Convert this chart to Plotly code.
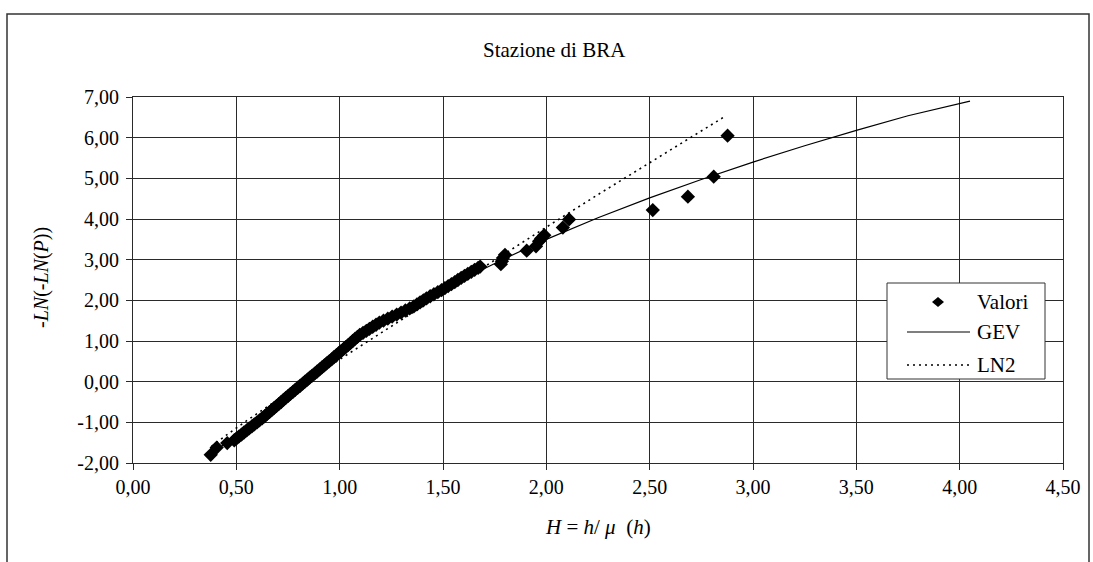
import plotly.graph_objects as go

# ---- data -------------------------------------------------------------
# Observed values: normalised rainfall H and reduced Gumbel variate -ln(-ln P)
valori_h = [0.376, 0.405, 0.456, 0.490,
            0.500, 0.512, 0.525, 0.537, 0.550, 0.562, 0.575, 0.587, 0.600, 0.612, 0.625,
            0.637, 0.648, 0.660, 0.671, 0.682, 0.694, 0.705, 0.717, 0.728, 0.739, 0.751,
            0.762, 0.774, 0.785, 0.797, 0.809, 0.821, 0.832, 0.844, 0.855, 0.867, 0.879,
            0.891, 0.903, 0.914, 0.926, 0.937, 0.949, 0.961, 0.972, 0.984, 0.995, 1.007,
            1.018, 1.029, 1.041, 1.052, 1.063, 1.074, 1.086, 1.097, 1.113, 1.129, 1.144,
            1.160, 1.176, 1.192, 1.212, 1.233, 1.254, 1.276, 1.297, 1.318, 1.339, 1.359,
            1.374, 1.389, 1.405, 1.420, 1.438, 1.456, 1.475, 1.493, 1.509, 1.525, 1.541,
            1.557, 1.572, 1.588, 1.604, 1.620, 1.637, 1.653, 1.670, 1.680,
            1.780, 1.785, 1.790, 1.800, 1.905, 1.950, 1.965, 1.975, 1.990,
            2.080, 2.110, 2.515, 2.685, 2.810, 2.877]
valori_y = [-1.80, -1.62, -1.51, -1.44,
            -1.40, -1.35, -1.30, -1.25, -1.20, -1.15, -1.10, -1.05, -1.00, -0.95, -0.90,
            -0.85, -0.80, -0.75, -0.70, -0.65, -0.60, -0.55, -0.50, -0.45, -0.40, -0.35,
            -0.30, -0.25, -0.20, -0.15, -0.10, -0.05, 0.00, 0.05, 0.10, 0.15, 0.20,
            0.25, 0.30, 0.35, 0.40, 0.45, 0.50, 0.55, 0.60, 0.65, 0.70, 0.75,
            0.80, 0.85, 0.90, 0.95, 1.00, 1.05, 1.10, 1.15, 1.20, 1.25, 1.30,
            1.35, 1.40, 1.45, 1.50, 1.55, 1.60, 1.65, 1.70, 1.75, 1.80, 1.85,
            1.90, 1.95, 2.00, 2.05, 2.10, 2.15, 2.20, 2.25, 2.30, 2.35, 2.40,
            2.45, 2.50, 2.55, 2.60, 2.65, 2.70, 2.75, 2.80, 2.83,
            2.89, 2.96, 3.04, 3.12, 3.22, 3.33, 3.45, 3.52, 3.60,
            3.79, 3.99, 4.22, 4.55, 5.04, 6.05]

# GEV growth curve
gev_h = [0.40, 0.50, 0.60, 0.70, 0.80, 0.90, 1.00, 1.20, 1.40, 1.60, 1.80,
         2.00, 2.25, 2.50, 2.75, 3.00, 3.25, 3.50, 3.75, 4.05]
gev_y = [-1.70, -1.31, -0.92, -0.53, -0.13, 0.28, 0.68, 1.38, 1.98, 2.53, 3.03,
         3.50, 4.03, 4.52, 4.97, 5.40, 5.80, 6.18, 6.54, 6.90]

# Two-parameter lognormal growth curve
ln2_h = [0.38, 0.45, 0.55, 0.65, 0.75, 0.85, 1.00, 1.15, 1.30, 1.50, 1.75,
         2.00, 2.25, 2.50, 2.70, 2.86]
ln2_y = [-1.59, -1.32, -0.96, -0.61, -0.27, 0.06, 0.55, 1.04, 1.53, 2.18, 2.99,
         3.80, 4.60, 5.39, 6.02, 6.51]

x_ticks = [0.0, 0.5, 1.0, 1.5, 2.0, 2.5, 3.0, 3.5, 4.0, 4.5]
x_tick_text = ["0,00", "0,50", "1,00", "1,50", "2,00", "2,50", "3,00", "3,50", "4,00", "4,50"]
y_ticks = [-2, -1, 0, 1, 2, 3, 4, 5, 6, 7]
y_tick_text = ["-2,00", "-1,00", "0,00", "1,00", "2,00", "3,00", "4,00", "5,00", "6,00", "7,00"]

# ---- layout geometry ---------------------------------------------------
W, H = 1093, 562
ML, MR, MT, MB = 133, 30, 97, 99
PW, PH = W - ML - MR, H - MT - MB
FONT = "Liberation Serif"


def fx(px):
    """pixel column -> paper x"""
    return (px - ML) / PW


def fy(py):
    """pixel row -> paper y"""
    return (H - MB - py) / PH


fig = go.Figure()

fig.add_trace(go.Scatter(
    x=gev_h, y=gev_y, mode="lines", name="GEV",
    line=dict(color="black", width=1.2), showlegend=False))
fig.add_trace(go.Scatter(
    x=ln2_h, y=ln2_y, mode="lines", name="LN2",
    line=dict(color="black", width=1.6, dash="2px,4px"), showlegend=False))
fig.add_trace(go.Scatter(
    x=valori_h, y=valori_y, mode="markers", name="Valori",
    marker=dict(symbol="diamond", size=11, color="black", line=dict(width=0)),
    showlegend=False))

axis_common = dict(
    showgrid=True, gridcolor="#2a2a2a", gridwidth=1,
    showline=True, linecolor="#2a2a2a", linewidth=1, mirror=True,
    ticks="outside", ticklen=6, tickcolor="#2a2a2a",
    tickfont=dict(family=FONT, size=20, color="black"),
    zeroline=False, fixedrange=True,
)

fig.update_xaxes(range=[0, 4.5], tickvals=x_ticks, ticktext=x_tick_text, **axis_common)
fig.update_yaxes(range=[-2, 7], tickvals=y_ticks, ticktext=y_tick_text,
                 ticklabelstandoff=3, **axis_common)

shapes = [
    # chart-area frame
    dict(type="rect", xref="paper", yref="paper",
         x0=fx(7), x1=fx(1089), y0=fy(14), y1=fy(600),
         line=dict(color="#333", width=1.5), fillcolor="rgba(0,0,0,0)", layer="below"),
    # legend box
    dict(type="rect", xref="paper", yref="paper",
         x0=fx(887), x1=fx(1045), y0=fy(283), y1=fy(379),
         line=dict(color="#333", width=1), fillcolor="white"),
    # legend samples
    dict(type="path", xref="paper", yref="paper",
         xsizemode="pixel", ysizemode="pixel",
         xanchor=fx(938), yanchor=fy(302),
         path="M -6 0 L 0 5 L 6 0 L 0 -5 Z",
         line=dict(width=0), fillcolor="black"),
    dict(type="line", xref="paper", yref="paper",
         x0=fx(907), x1=fx(970), y0=fy(332), y1=fy(332),
         line=dict(color="black", width=1.2)),
    dict(type="line", xref="paper", yref="paper",
         x0=fx(907), x1=fx(970), y0=fy(365), y1=fy(365),
         line=dict(color="black", width=1.6, dash="2px,4px")),
]

annotations = [
    dict(text="Stazione di BRA", x=fx(554), y=fy(50), xref="paper", yref="paper",
         showarrow=False, xanchor="center", yanchor="middle",
         font=dict(family=FONT, size=21, color="black")),
    dict(text="-<i>LN</i>(-<i>LN</i>(<i>P</i>))", x=fx(41), y=fy(278),
         xref="paper", yref="paper", showarrow=False, textangle=-90,
         xanchor="center", yanchor="middle",
         font=dict(family=FONT, size=20, color="black")),
    dict(text="<i>H</i> = <i>h</i>/ <i>\u03bc</i>\u00a0 (<i>h</i>)", x=fx(598), y=fy(527),
         xref="paper", yref="paper", showarrow=False,
         xanchor="center", yanchor="middle",
         font=dict(family=FONT, size=21, color="black")),
]
for label, row in (("Valori", 302), ("GEV", 332), ("LN2", 365)):
    annotations.append(dict(
        text=label, x=fx(975), y=fy(row), xref="paper", yref="paper",
        showarrow=False, xanchor="left", yanchor="middle",
        font=dict(family=FONT, size=21, color="black")))

fig.update_layout(
    width=W, height=H,
    margin=dict(l=ML, r=MR, t=MT, b=MB, autoexpand=False),
    paper_bgcolor="white", plot_bgcolor="white",
    showlegend=False,
    shapes=shapes, annotations=annotations,
    font=dict(family=FONT, color="black"),
)

fig.write_html("out.html", config={"displayModeBar": False})
